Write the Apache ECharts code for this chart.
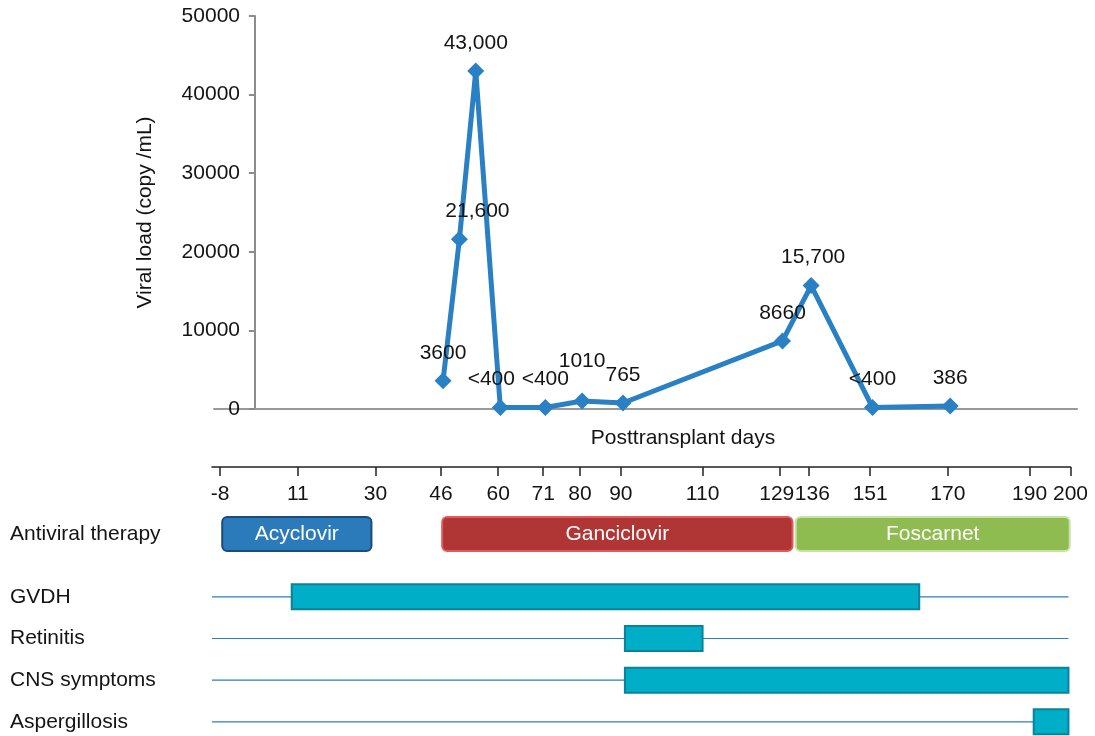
<!DOCTYPE html>
<html>
<head>
<meta charset="utf-8">
<script src="https://cdn.jsdelivr.net/npm/echarts@6/dist/echarts.min.js"></script>
<style>
html,body{margin:0;padding:0;background:#fff;}
#chart{width:1095px;height:736px;}
</style>
</head>
<body>
<div id="chart"></div>
<script>
// ---- data ----
const days = [46, 50, 54, 60, 71, 80, 90, 129, 136, 151, 170];
const viralLoad = [3600, 21600, 43000, 200, 200, 1010, 765, 8660, 15700, 200, 386];
const pointLabels = ['3600', '21,600', '43,000', '<400', '<400', '1010', '765', '8660', '15,700', '<400', '386'];
const yTicks = [0, 10000, 20000, 30000, 40000, 50000];
const dayTicks = [-8, 11, 30, 46, 60, 71, 80, 90, 110, 129, 136, 151, 170, 190, 200];

const therapyNames = ['Acyclovir', 'Ganciclovir', 'Foscarnet'];
const therapyStart = [-7.5, 46.3, 132.8];
const therapyEnd = [29, 132, 199.8];

const conditionNames = ['GVDH', 'Retinitis', 'CNS symptoms', 'Aspergillosis'];
const conditionRows = [0, 1, 2, 3];
const conditionStart = [9.5, 91, 91, 191];
const conditionEnd = [163, 110, 199.5, 199.5];
const timelineStart = -10;
const timelineEnd = 199.5;

// ---- styles ----
const FONT = 'Liberation Sans, Arial, Helvetica, sans-serif';
const FS = 21;
const TXT = '#141414';
const therapyStyle = {
  'Acyclovir': {fill: '#2b7bba', stroke: '#1c4c78'},
  'Ganciclovir': {fill: '#b03535', stroke: '#e25a5a'},
  'Foscarnet': {fill: '#8fbc50', stroke: '#c8e2a6'}
};
const labelOffsets = {1: [18, 0], 3: [-9, 0], 5: [0, -12], 8: [2, 0]};
// small nudges for crowded tick labels
const tickNudge = {129: 'l', 136: 'r'};

const lineData = days.map((d, i) => ({
  value: [d, viralLoad[i]],
  label: {formatter: pointLabels[i], offset: labelOffsets[i] || [0, 0]}
}));

const chart = echarts.init(document.getElementById('chart'), null, {renderer: 'canvas'});

function renderTherapy(params, api) {
  const i = params.dataIndex;
  const name = therapyNames[i];
  const p0 = api.coord([api.value(1), 0]);
  const p1 = api.coord([api.value(2), 0]);
  const h = 34;
  const st = therapyStyle[name];
  return {
    type: 'group',
    children: [
      {type: 'rect', shape: {x: p0[0], y: p0[1] - h / 2, width: p1[0] - p0[0], height: h, r: 5},
       style: {fill: st.fill, stroke: st.stroke, lineWidth: 2}},
      {type: 'text', x: (p0[0] + p1[0]) / 2, y: p0[1],
       style: {text: name, fill: '#ffffff', font: FS + 'px ' + FONT, align: 'center', verticalAlign: 'middle'}}
    ]
  };
}

function renderCondition(params, api) {
  const row = api.value(0);
  const p0 = api.coord([api.value(1), row]);
  const p1 = api.coord([api.value(2), row]);
  const l0 = api.coord([timelineStart, row]);
  const l1 = api.coord([timelineEnd, row]);
  const h = 25;
  return {
    type: 'group',
    children: [
      {type: 'line', shape: {x1: l0[0], y1: l0[1], x2: l1[0], y2: l1[1]},
       style: {stroke: '#2a7fc0', lineWidth: 1.2}},
      {type: 'rect', shape: {x: p0[0], y: p0[1] - h / 2, width: p1[0] - p0[0], height: h},
       style: {fill: '#00aec7', stroke: '#0b8299', lineWidth: 2}}
    ]
  };
}

const option = {
  backgroundColor: '#ffffff',
  animation: false,
  textStyle: {fontFamily: FONT},
  grid: [
    {left: 214, right: 18, top: 16, height: 393},
    {left: 212, right: 24.5, top: 457, height: 10},
    {left: 212, right: 24.5, top: 516, height: 36},
    {left: 212, right: 24.5, top: 576, height: 160}
  ],
  xAxis: [
    {gridIndex: 0, type: 'value', min: -10, max: 201,
     name: 'Posttransplant days', nameLocation: 'middle', nameGap: 19,
     nameTextStyle: {fontSize: FS, color: TXT, fontFamily: FONT, padding: [0, 0, 0, 75]},
     axisLine: {show: true, lineStyle: {color: '#999999', width: 2}},
     axisTick: {show: false}, axisLabel: {show: false}, splitLine: {show: false}},
    {gridIndex: 1, type: 'value', min: -10, max: 200, position: 'bottom',
     axisLine: {show: true, lineStyle: {color: '#222222', width: 1.5}},
     axisTick: {show: true, customValues: dayTicks, length: 9, lineStyle: {color: '#222222', width: 1.5}},
     axisLabel: {show: true, customValues: dayTicks, fontSize: FS, color: TXT, margin: 17, fontFamily: FONT,
                 formatter: v => tickNudge[v] ? '{' + tickNudge[v] + '|' + v + '}' : String(v),
                 rich: {
                   l: {fontSize: FS, color: TXT, fontFamily: FONT, padding: [0, 7, 0, 0]},
                   r: {fontSize: FS, color: TXT, fontFamily: FONT, padding: [0, 0, 0, 7]}
                 }},
     splitLine: {show: false}},
    {gridIndex: 2, type: 'value', min: -10, max: 200, show: false},
    {gridIndex: 3, type: 'value', min: -10, max: 200, show: false}
  ],
  yAxis: [
    {gridIndex: 0, type: 'value', min: 0, max: 50000, interval: 10000,
     name: 'Viral load (copy /mL)', nameLocation: 'middle', nameGap: 58, nameMoveOverlap: false,
     nameTextStyle: {fontSize: FS, color: TXT, fontFamily: FONT},
     axisLine: {show: true, onZero: true, lineStyle: {color: '#8c8c8c', width: 2}},
     axisTick: {show: true, length: 6, lineStyle: {color: '#8c8c8c', width: 2}},
     axisLabel: {fontSize: FS, color: TXT, margin: -26, fontFamily: FONT,
                 customValues: yTicks, formatter: v => String(v)},
     splitLine: {show: false}},
    {gridIndex: 1, type: 'value', show: false},
    {gridIndex: 2, type: 'category', data: ['Antiviral therapy'],
     axisLine: {show: false}, axisTick: {show: false},
     axisLabel: {align: 'left', margin: 202, fontSize: FS, color: TXT, fontFamily: FONT}},
    {gridIndex: 3, type: 'value', inverse: true, min: -0.5, max: 3.34,
     axisLine: {show: false}, axisTick: {show: false}, splitLine: {show: false},
     axisLabel: {align: 'left', margin: 202, fontSize: FS, color: TXT, fontFamily: FONT,
                 customValues: conditionRows, formatter: v => conditionNames[Math.round(v)]}}
  ],
  series: [
    {type: 'line', xAxisIndex: 0, yAxisIndex: 0, data: lineData,
     symbol: 'diamond', symbolSize: 17,
     lineStyle: {color: '#2980c4', width: 5},
     itemStyle: {color: '#2980c4'},
     label: {show: true, position: 'top', distance: 9, fontSize: FS, color: TXT, fontFamily: FONT},
     z: 5},
    {type: 'custom', xAxisIndex: 2, yAxisIndex: 2, renderItem: renderTherapy,
     encode: {x: [1, 2], y: 0},
     data: therapyNames.map((n, i) => [0, therapyStart[i], therapyEnd[i]])},
    {type: 'custom', xAxisIndex: 3, yAxisIndex: 3, renderItem: renderCondition,
     encode: {x: [1, 2], y: 0},
     data: conditionNames.map((n, i) => [conditionRows[i], conditionStart[i], conditionEnd[i]])}
  ]
};
chart.setOption(option);
</script>
</body>
</html>
